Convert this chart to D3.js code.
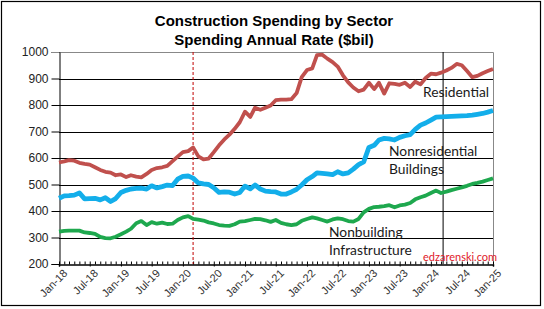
<!DOCTYPE html>
<html>
<head>
<meta charset="utf-8">
<script src="https://cdn.jsdelivr.net/npm/d3@7"></script>
<style>
  body { margin: 0; background: #fff; }
  svg { display: block; }
  .axis text { font-family: Arial, "Liberation Sans", sans-serif; fill: #222; }
  .lbl { font-family: Lato, "Open Sans", sans-serif; font-size: 13.8px; fill: #1a1a1a; }
</style>
</head>
<body>
<div id="chart"></div>
<script>
// monthly values, Jan-18 .. Jan-25 ($bil, seasonally adjusted annual rate)
var startMonth = "2018-01-01";
var endMonth = "2025-01-01";

var residential = [583, 587, 592, 590, 582, 578, 575, 565, 555, 548, 545, 535,
    538, 528, 535, 530, 527, 540, 555, 562, 565, 570, 588, 605,
    622, 626, 640, 606, 595, 598, 622, 648, 670, 688, 710, 735,
    775, 755, 790, 782, 790, 798, 818, 820, 820, 822, 845, 905,
    932, 938, 988, 990, 975, 962, 945, 912, 885, 866, 852, 858,
    884, 860, 884, 843, 882, 880, 876, 884, 868, 888, 878, 902,
    918, 916, 922, 930, 940, 955, 950, 928, 905, 910, 920, 928,
    936];

var nonresidential = [448, 457, 458, 460, 468, 446, 447, 448, 442, 450, 436, 447,
    470, 478, 483, 485, 486, 483, 495, 487, 492, 498, 496, 520,
    531, 532, 524, 506, 502, 500, 488, 470, 472, 471, 464, 470,
    494, 484, 498, 483, 475, 473, 472, 464, 464, 472, 482, 498,
    518, 530, 544, 542, 540, 537, 548, 540, 544, 558, 575, 585,
    640, 648, 668, 674, 672, 668, 678, 684, 688, 708, 724, 732,
    743, 754, 755, 756, 757, 758, 759, 760, 762, 765, 768, 773,
    779];

var nonbuilding = [322, 325, 326, 326, 326, 319, 317, 314, 302, 298, 297, 303,
    312, 322, 333, 354, 362, 347, 358, 352, 356, 351, 352, 366,
    376, 381, 370, 367, 364, 357, 353, 347, 345, 344, 350, 360,
    362, 366, 370, 369, 365, 359, 366, 355, 350, 347, 350, 363,
    370, 376, 372, 366, 360, 368, 372, 369, 362, 360, 370, 395,
    408, 415, 416, 418, 422, 414, 421, 424, 430, 444, 452, 458,
    468, 477, 468, 473, 479, 484, 489, 495, 502, 506, 511, 517,
    523];

var yTicks = [200, 300, 400, 500, 600, 700, 800, 900, 1000];
// red dashed = covid start, black = latest data cutoff
var markerDates = ["2020-03-01", "2024-03-13"];

function init() {
    var w = 544;
    var h = 309;
    var left = 59, right = 493, top = 52, bottom = 264;

    var svg = d3.select("#chart")
        .append("svg")
        .attr("width", w)
        .attr("height", h);

    // outer chart border
    svg.append("rect")
        .attr("x", 1.5).attr("y", 1.5)
        .attr("width", 539).attr("height", 304)
        .attr("fill", "none")
        .attr("stroke", "#000")
        .attr("stroke-width", 1.2);

    var parse = d3.timeParse("%Y-%m-%d");
    var t0 = parse(startMonth);
    var months = residential.map(function(d, i) {
        return d3.timeMonth.offset(t0, i);
    });

    var xScale = d3.scaleTime()
        .domain([t0, parse(endMonth)])
        .range([left, right]);

    var yScale = d3.scaleLinear()
        .domain([200, 1000])
        .range([bottom, top]);

    // title
    var title = svg.append("text")
        .attr("text-anchor", "middle")
        .style("font-family", "Arial, 'Liberation Sans', sans-serif")
        .style("font-weight", "bold")
        .style("font-size", "15px");
    title.append("tspan").attr("x", 274).attr("y", 26).text("Construction Spending by Sector");
    title.append("tspan").attr("x", 274).attr("y", 45).text("Spending Annual Rate ($bil)");

    // grid lines
    svg.selectAll(".grid")
        .data(yTicks.slice(1, -1))
        .enter()
        .append("line")
        .attr("class", "grid")
        .attr("x1", left)
        .attr("x2", right)
        .attr("y1", function(d) { return Math.round(yScale(d)) + 0.5; })
        .attr("y2", function(d) { return Math.round(yScale(d)) + 0.5; })
        .attr("stroke", "#000")
        .attr("stroke-width", 1);

    // plot area border (top/right grey)
    svg.append("path")
        .attr("d", "M" + left + "," + (top + 0.5) + "H" + (right + 0.5) + "V" + bottom)
        .attr("fill", "none")
        .attr("stroke", "#888");

    // y axis
    var yAxis = d3.axisLeft(yScale)
        .tickValues(yTicks)
        .tickSize(8)
        .tickPadding(3)
        .tickFormat(d3.format("d"));

    var gy = svg.append("g")
        .attr("class", "axis")
        .attr("transform", "translate(" + (left + 0.5) + ",0)")
        .call(yAxis);
    gy.select(".domain").attr("stroke", "#000");
    gy.selectAll(".tick line").attr("stroke", "#000");
    gy.selectAll("text").style("font-size", "12px");
    gy.selectAll(".tick").filter(function(d) { return d === 1000; })
        .select("line").attr("stroke", "#888");

    // x axis, minor monthly ticks inside
    var gxMinor = svg.append("g")
        .attr("transform", "translate(0," + (bottom + 0.5) + ")")
        .call(d3.axisTop(xScale).ticks(d3.timeMonth.every(1)).tickSize(3).tickFormat(""));
    gxMinor.select(".domain").remove();
    gxMinor.selectAll("line").attr("stroke", "#000");

    var xAxis = d3.axisBottom(xScale)
        .ticks(d3.timeMonth.every(6))
        .tickSize(2)
        .tickFormat(d3.timeFormat("%b-%y"));

    var gx = svg.append("g")
        .attr("class", "axis")
        .attr("transform", "translate(0," + (bottom + 0.5) + ")")
        .call(xAxis);
    gx.select(".domain").attr("stroke", "#000").attr("stroke-width", 1.5);
    gx.selectAll(".tick line").attr("stroke", "#000");
    gx.selectAll("text")
        .style("font-size", "11px")
        .style("fill", "#333")
        .attr("text-anchor", "end")
        .attr("dy", 0)
        .attr("transform", "translate(5,6) rotate(-45)");

    // marker lines
    svg.append("line")
        .attr("x1", xScale(parse(markerDates[0])))
        .attr("x2", xScale(parse(markerDates[0])))
        .attr("y1", top)
        .attr("y2", bottom)
        .attr("stroke", "#c00000")
        .attr("stroke-width", 1)
        .attr("stroke-dasharray", "3,2");

    svg.append("line")
        .attr("x1", xScale(parse(markerDates[1])))
        .attr("x2", xScale(parse(markerDates[1])))
        .attr("y1", top)
        .attr("y2", bottom)
        .attr("stroke", "#000")
        .attr("stroke-width", 1);

    var line = d3.line()
        .x(function(d, i) { return xScale(months[i]); })
        .y(function(d) { return yScale(d); });

    var series = [
        { values: nonbuilding, color: "#1ea84e", width: 3.8 },
        { values: nonresidential, color: "#13aeea", width: 4.8 },
        { values: residential, color: "#c0504d", width: 3.8 }
    ];

    svg.selectAll(".series")
        .data(series)
        .enter()
        .append("path")
        .attr("class", "series")
        .attr("d", function(d) { return line(d.values); })
        .attr("fill", "none")
        .attr("stroke", function(d) { return d.color; })
        .attr("stroke-width", function(d) { return d.width; })
        .attr("stroke-linejoin", "round");

    // series labels
    var labels = [
        { text: ["Residential"], x: 423, y: 97 },
        { text: ["Nonresidential", "Buildings"], x: 389, y: 156 },
        { text: ["Nonbuilding", "Infrastructure"], x: 329, y: 237 }
    ];
    labels.forEach(function(l) {
        var t = svg.append("text").attr("class", "lbl");
        l.text.forEach(function(s, i) {
            t.append("tspan").attr("x", l.x).attr("y", l.y + i * 18).text(s);
        });
    });

    svg.append("text")
        .attr("x", 423)
        .attr("y", 261)
        .style("font-family", "Lato, 'Open Sans', sans-serif")
        .style("font-size", "11px")
        .style("fill", "#e0202a")
        .text("edzarenski.com");
}

window.onload = init;
</script>
</body>
</html>
